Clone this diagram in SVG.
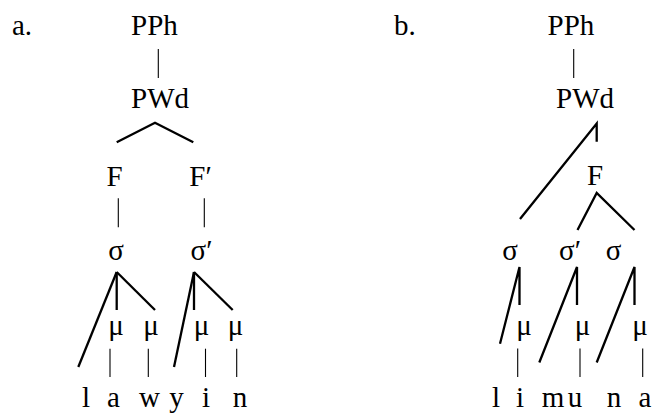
<svg xmlns="http://www.w3.org/2000/svg" width="652" height="414" viewBox="0 0 652 414">
<style>
text{font-family:"Times New Roman",Tinos,"Liberation Serif","DejaVu Serif",Times,serif;font-size:29px;fill:#000}
.m{text-anchor:middle}
.thick{stroke:#000;stroke-width:2.3;fill:none;stroke-linecap:butt;stroke-linejoin:miter}
.thin{stroke:#000;stroke-width:1.1;fill:none}
</style>
<rect width="652" height="414" fill="#fff"/>
<g id="labels">
<text x="12" y="35">a.</text>
<text x="394" y="35">b.</text>
</g>
<g id="tree-a">
<g id="a-PPh"><text x="131" y="35">PPh</text></g>
<g id="a-PWd"><text x="131" y="108">PWd</text></g>
<g id="a-F"><text x="106.5" y="186">F</text></g>
<g id="a-F2"><text x="189.3" y="186">F′</text></g>
<g id="a-s1"><text class="m" x="116" y="260">σ</text></g>
<g id="a-s2"><text x="190.5" y="260">σ′</text></g>
<g id="a-mu1"><text class="m" x="116" y="335">μ</text></g>
<g id="a-mu2"><text class="m" x="151" y="335">μ</text></g>
<g id="a-mu3"><text class="m" x="201.5" y="335">μ</text></g>
<g id="a-mu4"><text class="m" x="235.5" y="335">μ</text></g>
<g id="a-l"><text class="m" x="86" y="406.5">l</text></g>
<g id="a-a"><text class="m" x="113.5" y="406.5">a</text></g>
<g id="a-w"><text class="m" x="149.5" y="406.5">w</text></g>
<g id="a-y"><text class="m" x="176.5" y="406.5">y</text></g>
<g id="a-i"><text class="m" x="206" y="406.5">i</text></g>
<g id="a-n"><text class="m" x="240" y="406.5">n</text></g>
</g>
<g id="tree-b">
<g id="b-PPh"><text x="547.5" y="35">PPh</text></g>
<g id="b-PWd"><text x="556" y="108">PWd</text></g>
<g id="b-F"><text class="m" x="595" y="185">F</text></g>
<g id="b-s1"><text class="m" x="510" y="260">σ</text></g>
<g id="b-s2"><text x="559" y="260">σ′</text></g>
<g id="b-s3"><text class="m" x="613.5" y="260">σ</text></g>
<g id="b-mu1"><text class="m" x="524" y="335">μ</text></g>
<g id="b-mu2"><text class="m" x="582.5" y="335">μ</text></g>
<g id="b-mu3"><text class="m" x="640" y="335">μ</text></g>
<g id="b-l"><text class="m" x="496" y="406.5">l</text></g>
<g id="b-i"><text class="m" x="520" y="406.5">i</text></g>
<g id="b-m"><text class="m" x="553" y="406.5">m</text></g>
<g id="b-u"><text class="m" x="575" y="406.5">u</text></g>
<g id="b-n"><text class="m" x="614" y="406.5">n</text></g>
<g id="b-a"><text class="m" x="645" y="406.5">a</text></g>
</g>
<g id="connectors">
<line class="thin" x1="158.3" y1="49" x2="158.3" y2="78"/>
<polyline class="thick" points="116.7,142.3 155,122.7 193.3,142.3"/>
<line class="thin" x1="118.3" y1="198.3" x2="118.3" y2="227.3"/>
<line class="thin" x1="204.3" y1="198.3" x2="204.3" y2="227.3"/>
<line class="thick" x1="116.7" y1="272" x2="78.3" y2="367"/>
<line class="thick" x1="116.7" y1="272" x2="116.7" y2="310"/>
<line class="thick" x1="116.7" y1="272" x2="155" y2="310"/>
<line class="thick" x1="194" y1="272" x2="174" y2="367"/>
<line class="thick" x1="194" y1="272" x2="194" y2="310"/>
<line class="thick" x1="194" y1="272" x2="232.7" y2="310"/>
<line class="thin" x1="110" y1="348.7" x2="110" y2="377"/>
<line class="thin" x1="148.3" y1="348.7" x2="148.3" y2="377"/>
<line class="thin" x1="205.5" y1="348.7" x2="205.5" y2="377"/>
<line class="thin" x1="236.7" y1="348.7" x2="236.7" y2="377"/>
<line class="thin" x1="573.7" y1="49" x2="573.7" y2="78"/>
<polyline class="thick" points="520,219 596.7,123.5 596.7,141.7"/>
<polyline class="thick" points="577.5,230 596.7,193 634.5,230"/>
<polyline class="thick" points="500,343.7 519.5,267 519.5,305"/>
<polyline class="thick" points="539.3,362.5 577,267 577,305"/>
<polyline class="thick" points="596.7,362.5 634.5,267 634.5,305"/>
<line class="thin" x1="517.7" y1="348.5" x2="517.7" y2="377"/>
<line class="thin" x1="580" y1="348.5" x2="580" y2="377"/>
<line class="thin" x1="642.7" y1="348.5" x2="642.7" y2="377"/>
</g>
</svg>
